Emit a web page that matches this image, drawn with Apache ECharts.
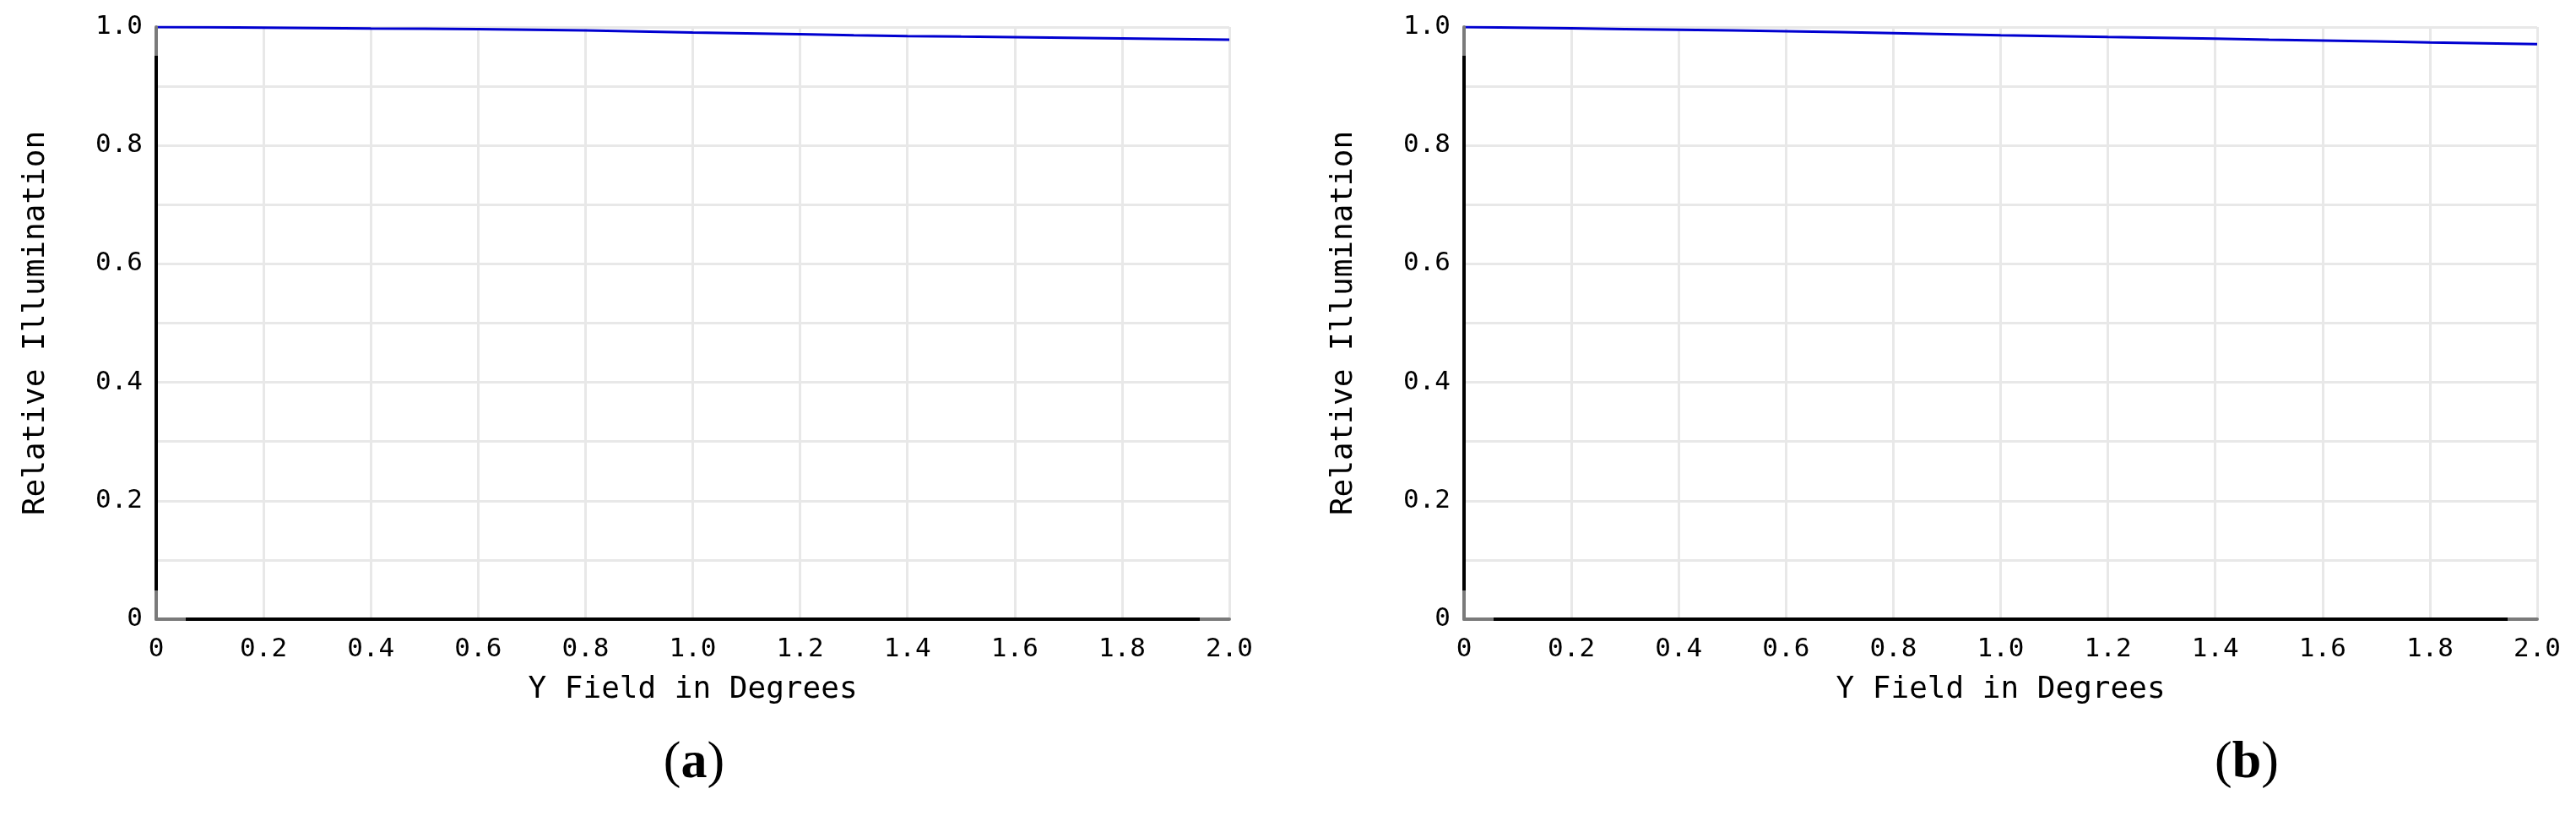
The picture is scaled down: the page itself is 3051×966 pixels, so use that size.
<!DOCTYPE html>
<html>
<head>
<meta charset="utf-8">
<script src="https://cdn.jsdelivr.net/npm/echarts@6/dist/echarts.min.js"></script>
<style>
  html, body { margin: 0; padding: 0; background: #ffffff; }
  #chart { width: 3051px; height: 966px; }
</style>
</head>
<body>
<div id="chart"></div>
<script>
let fieldDegrees = [0, 0.1, 0.2, 0.3, 0.4, 0.5, 0.6, 0.7, 0.8, 0.9, 1.0, 1.1, 1.2, 1.3, 1.4, 1.5, 1.6, 1.7, 1.8, 1.9, 2.0];
let illumA = [1.000, 0.9995, 0.9989, 0.9983, 0.9976, 0.9970, 0.9963, 0.9953, 0.9942, 0.9925, 0.9908, 0.9893, 0.9878, 0.9862, 0.9848, 0.9838, 0.9829, 0.9818, 0.9806, 0.9795, 0.9785];
let illumB = [1.000, 0.9989, 0.9977, 0.9966, 0.9954, 0.9942, 0.9929, 0.9913, 0.9896, 0.9879, 0.9862, 0.9847, 0.9832, 0.9818, 0.9804, 0.9787, 0.9771, 0.9756, 0.9740, 0.9725, 0.9710];
let xTickLabels = ['0', '0.2', '0.4', '0.6', '0.8', '1.0', '1.2', '1.4', '1.6', '1.8', '2.0'];
let yTickLabels = ['0', '0.2', '0.4', '0.6', '0.8', '1.0'];
let panelLabels = ['a', 'b'];

const mono = 'DejaVu Sans Mono';
const gridColor = '#e8e8e8';

function pairs(ys) {
  return fieldDegrees.map((x, i) => [x, ys[i]]);
}

function axisGradient(horizontal, endFrac) {
  let stops = [
    { offset: 0, color: '#7a7a7a' },
    { offset: endFrac, color: '#7a7a7a' },
    { offset: endFrac, color: '#000000' },
    { offset: 1 - endFrac, color: '#000000' },
    { offset: 1 - endFrac, color: '#7a7a7a' },
    { offset: 1, color: '#7a7a7a' }
  ];
  return horizontal
    ? new echarts.graphic.LinearGradient(0, 0, 1, 0, stops)
    : new echarts.graphic.LinearGradient(0, 0, 0, 1, stops);
}

function xAxisFor(gridIndex) {
  return {
    type: 'value',
    gridIndex: gridIndex,
    min: 0,
    max: 2,
    interval: 0.2,
    name: 'Y Field in Degrees',
    nameLocation: 'middle',
    nameGap: 66,
    nameTextStyle: { fontFamily: mono, fontSize: 36, color: '#000000' },
    axisLine: { show: false },
    axisTick: { show: false },
    axisLabel: {
      margin: 20,
      fontFamily: mono,
      fontSize: 31,
      color: '#000000',
      formatter: (v) => xTickLabels[Math.round(v / 0.2)]
    },
    splitLine: { show: true, showMinLine: false, lineStyle: { color: gridColor, width: 3 } }
  };
}

function yAxisFor(gridIndex) {
  return {
    type: 'value',
    gridIndex: gridIndex,
    min: 0,
    max: 1,
    interval: 0.1,
    name: 'Relative Illumination',
    nameLocation: 'middle',
    nameGap: 124,
    nameTextStyle: { fontFamily: mono, fontSize: 36, color: '#000000' },
    axisLine: { show: false },
    axisTick: { show: false },
    axisLabel: {
      margin: 16,
      fontFamily: mono,
      fontSize: 31,
      color: '#000000',
      formatter: (v) => {
        let k = Math.round(v * 10);
        return k % 2 === 0 ? yTickLabels[k / 2] : '';
      }
    },
    splitLine: { show: true, showMinLine: false, lineStyle: { color: gridColor, width: 3 } }
  };
}

// bare axes drawn on top so the grid lines do not cut through the axis lines
function axisLineOnly(gridIndex, horizontal) {
  return {
    type: 'value',
    gridIndex: gridIndex,
    position: horizontal ? 'bottom' : 'left',
    min: 0,
    max: horizontal ? 2 : 1,
    z: 5,
    axisLine: { show: true, onZero: false, lineStyle: { color: axisGradient(horizontal, horizontal ? 0.029 : 0.052), width: 4 } },
    axisTick: { show: false },
    axisLabel: { show: false },
    splitLine: { show: false }
  };
}

function panelTitle(letter, x) {
  return {
    text: '{p|(}{b|' + letter + '}{p|)}',
    left: x,
    top: 868,
    textAlign: 'center',
    textStyle: {
      rich: {
        p: { fontFamily: 'Liberation Serif', fontSize: 62, fontWeight: 'normal', color: '#000000' },
        b: { fontFamily: 'Liberation Serif', fontSize: 62, fontWeight: 'bold', color: '#000000' }
      }
    }
  };
}

let chartDom = document.querySelector('#chart');
let myChart = echarts.init(chartDom, null, { renderer: 'canvas' });

let option = {
  backgroundColor: '#ffffff',
  animation: false,
  title: [panelTitle(panelLabels[0], 817), panelTitle(panelLabels[1], 2656)],
  grid: [
    { left: 185, top: 32, width: 1271, height: 701, outerBoundsMode: 'none' },
    { left: 1734, top: 32, width: 1271, height: 701, outerBoundsMode: 'none' }
  ],
  xAxis: [xAxisFor(0), xAxisFor(1), axisLineOnly(0, true), axisLineOnly(1, true)],
  yAxis: [yAxisFor(0), yAxisFor(1), axisLineOnly(0, false), axisLineOnly(1, false)],
  series: [
    {
      type: 'line',
      xAxisIndex: 0,
      yAxisIndex: 0,
      showSymbol: false,
      z: 4,
      lineStyle: { color: '#0000d0', width: 3 },
      data: pairs(illumA)
    },
    {
      type: 'line',
      xAxisIndex: 1,
      yAxisIndex: 1,
      showSymbol: false,
      z: 4,
      lineStyle: { color: '#0000d0', width: 3 },
      data: pairs(illumB)
    }
  ]
};

myChart.setOption(option);
</script>
</body>
</html>
